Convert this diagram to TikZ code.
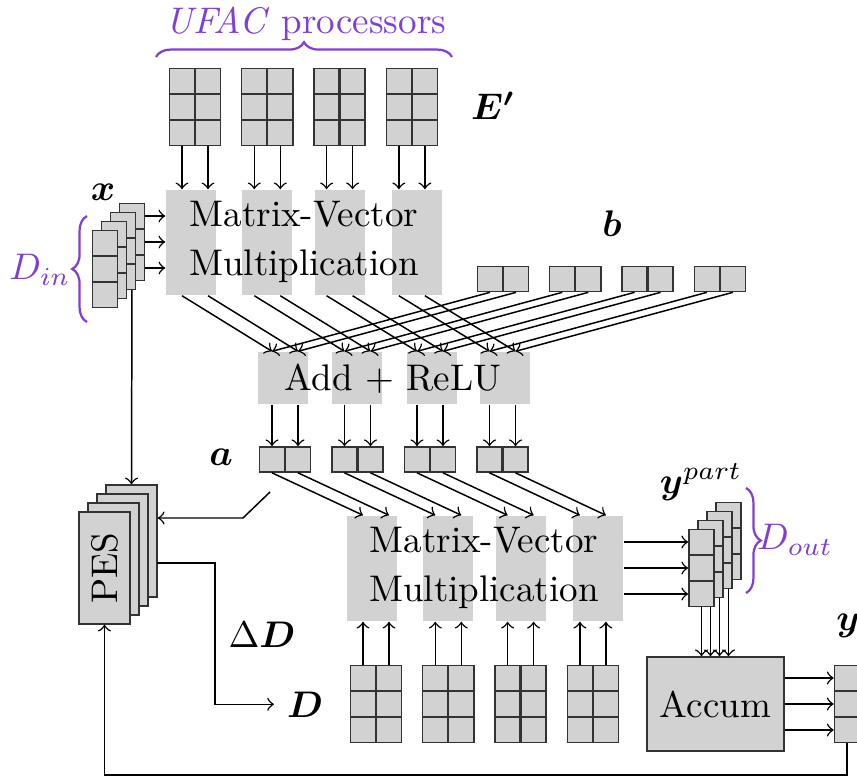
\documentclass[tikz,border=0pt]{standalone}
\usepackage{amsmath,amsfonts,amssymb}
\usepackage{tikz}
\usetikzlibrary{arrows,decorations.pathreplacing}

\definecolor{ufacpurple}{RGB}{127,63,212}
\tikzset{
    cell/.style={draw=black!80, fill=gray!35, minimum size=6.8pt, inner sep=0pt},
    strip/.style={fill=gray!35, minimum width=13.5pt, inner sep=0pt},
    stackbox/.style={draw=black!80, fill=gray!35, inner sep=0pt},
    bracepurple/.style={decorate, decoration={brace, amplitude=4pt}, draw=ufacpurple, line width=0.6pt},
}

\begin{document}
\begin{tikzpicture}[>=to, x=0.27pt, y=-0.27pt]
    \useasboundingbox (0,0) rectangle (857,776);

    % Draw gray strips behind the operations
    \foreach \k/\xx in {0/191,1/267,2/340,3/417}
        \node[strip, minimum height=28.35pt] (mvA\k) at (\xx,242.5) {};
    \foreach \k/\xx in {0/283,1/357,2/432,3/505}
        \node[strip, minimum height=14pt] (add\k) at (\xx,378) {};
    \foreach \k/\xx in {0/372,1/448,2/521,3/598}
        \node[strip, minimum height=28.35pt] (mvB\k) at (\xx,568.5) {};

    % Label the operations
    \node[align=center] (mvAtext) at (304,242) {Matrix-Vector\\[1.2pt]Multiplication};
    \node[anchor=base] (addtext) at (393,390) {Add + ReLU};
    \node[align=center] (mvBtext) at (484,568) {Matrix-Vector\\[1.2pt]Multiplication};

    % Draw weight, bias, activation and update blocks
    \foreach \k in {0,...,3} {
        \foreach \c in {0,1} {
            \foreach \r in {0,1,2} {
                \node[cell] (E\k\c\r) at ({182+72.3*\k+26*\c},{81+26*\r}) {};
                \node[cell] (D\k\c\r) at ({363+72.3*\k+26*\c},{678+26*\r}) {};
            }
            \node[cell] (B\k\c) at ({490+72.3*\k+26*\c},279) {};
            \node[cell] (A\k\c) at ({272+72.5*\k+26*\c},459.5) {};
        }
    }

    % Draw arrows through the layer
    \foreach \k in {0,...,3}
        \foreach \c in {0,1} {
            \draw[->] (E\k\c2.south) -- (E\k\c2.south |- mvA\k.north);
            \draw[->] (E\k\c2.south |- mvA\k.south) -- (A\k\c.north |- add\k.north);
            \draw[->] (B\k\c.south) -- (A\k\c.north |- add\k.north);
            \draw[->] (A\k\c.north |- add\k.south) -- (A\k\c.north);
            \draw[->] (A\k\c.south) -- (D\k\c0.north |- mvB\k.north);
            \draw[->] (D\k\c0.north) -- (D\k\c0.north |- mvB\k.south);
        }

    % Draw the PES stack
    \foreach \j in {3,2,1,0}
        \node[stackbox, minimum width=13.8pt, minimum height=30.2pt] (P\j) at ({104.5+9*\j},{568-9*\j}) {};
    \node[rotate=90] (pestext) at (P0) {PES};

    % Draw the input stack x
    \foreach \j in {3,2,1,0} {
        \foreach \r in {0,1,2}
            \node[cell] (X\j\r) at ({105+9*\j},{243+26*\r-9*\j}) {};
        \ifnum\j=3 \draw[->] (X32.south) -- (P3.north); \fi
    }
    \foreach \r in {0,1,2}
        \draw[->] (X3\r.east) -- (X3\r.east -| mvA0.west);

    % Draw accumulator and partial outputs
    \node[stackbox, minimum width=37pt, minimum height=25.4pt] (accum) at (715.5,704) {Accum};
    \foreach \j in {3,2,1,0} {
        \foreach \r in {0,1,2}
            \node[cell] (YP\j\r) at ({701.5+9*\j},{542+26*\r-9*\j}) {};
        \draw[->] (YP\j2.south) -- (YP\j2.south |- accum.north);
    }
    \foreach \r in {0,1,2}
        \draw[->] (mvB3.east |- YP0\r) -- (YP0\r.west);

    % Draw output y
    \foreach \r in {0,1,2}
        \node[cell] (Y\r) at (847,{678+26*\r}) {};
    \foreach \r in {0,1,2}
        \draw[->] (accum.east |- Y\r) -- (Y\r.west);

    % Label vectors and matrices
    \node[anchor=base] (Elab) at (493,120) {$\boldsymbol{E'}$};
    \node[anchor=base] (xlab) at (103,201) {$\boldsymbol{x}$};
    \node[anchor=base] (blab) at (612,237) {$\boldsymbol{b}$};
    \node[anchor=base] (alab) at (221,465) {$\boldsymbol{a}$};
    \node[anchor=base] (dDlab) at (262,647) {$\Delta\boldsymbol{D}$};
    \node[anchor=base] (Dlab) at (305,717) {$\boldsymbol{D}$};
    \node[anchor=base] (yplab) at (701,493) {$\boldsymbol{y}^{part}$};
    \node[anchor=base] (ylab) at (848,630) {$\boldsymbol{y}$};

    % Feedback paths to and from PES
    \coordinate (aTap) at (270,492);
    \coordinate (aBend) at (243,518);
    \draw[->] (aTap) -- (aBend) -- (aBend -| P3.east);
    \coordinate (pesOut) at (157,563);
    \coordinate (pesBend) at (215,563);
    \draw[->] (pesOut) -- (pesBend) |- (Dlab.west);
    \draw[->] (Y2.south) -- (Y2.south |- 0,775) -| (P0.south);

    % Braces
    \draw[bracepurple] (156,57) -- (452,57);
    \node[anchor=base, text=ufacpurple] (ufaclab) at (306,34) {\textit{UFAC} processors};
    \draw[bracepurple] (87,322) -- (87,216);
    \node[anchor=base, text=ufacpurple] (dinlab) at (40,280) {$D_{in}$};
    \draw[bracepurple] (746,488) -- (746,593);
    \node[anchor=base, text=ufacpurple] (doutlab) at (795,550) {$D_{out}$};
\end{tikzpicture}
\end{document}
